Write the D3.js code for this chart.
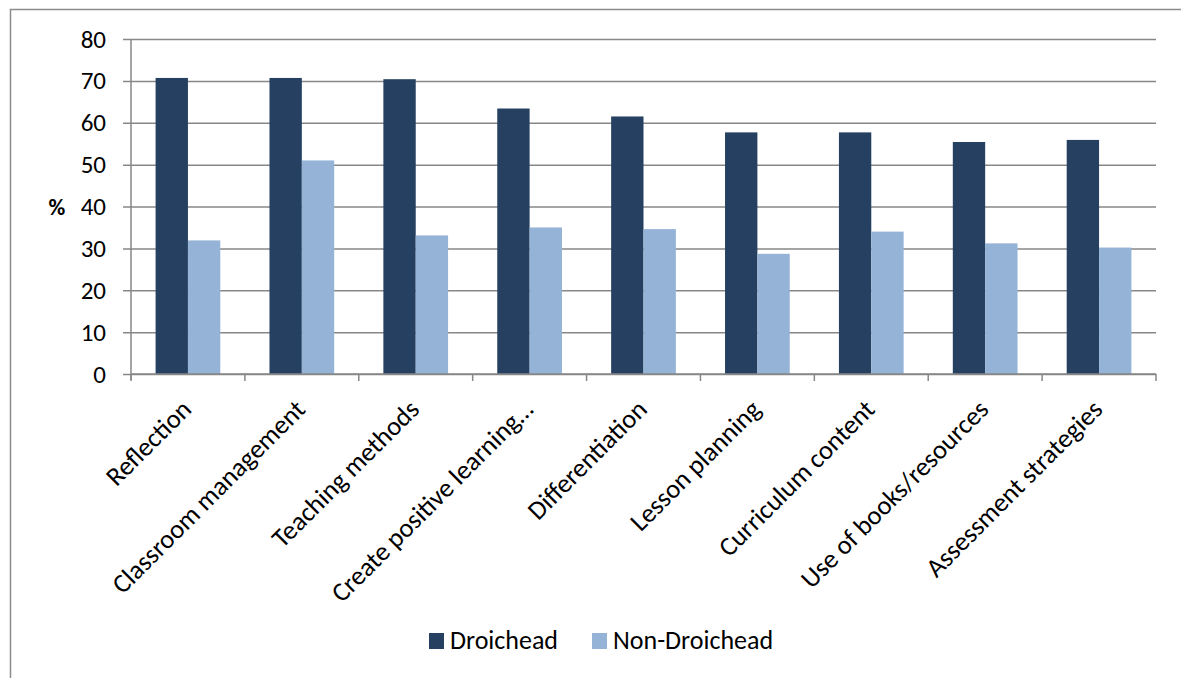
<!DOCTYPE html>
<html>
<head>
<meta charset="utf-8">
<script src="https://cdn.jsdelivr.net/npm/d3@7"></script>
<style>
  body { margin: 0; background: #fff; }
  text { font-family: Carlito, Calibri, Lato, sans-serif; fill: #000; }
</style>
</head>
<body>
<svg id="chart" width="1181" height="678"></svg>
<script>
const categories = ['Reflection', 'Classroom management', 'Teaching methods', 'Create positive learning…',
  'Differentiation', 'Lesson planning', 'Curriculum content', 'Use of books/resources', 'Assessment strategies'];
const droichead = [70.7, 70.7, 70.4, 63.4, 61.5, 57.7, 57.7, 55.4, 55.9];
const nonDroichead = [31.9, 51.0, 33.1, 35.0, 34.6, 28.7, 34.0, 31.2, 30.2];
const seriesNames = ['Droichead', 'Non-Droichead'];
const colors = ['#264061', '#95b3d7'];
const yTicks = [0, 10, 20, 30, 40, 50, 60, 70, 80];

const margin = {top: 39, right: 25, bottom: 304, left: 131};
const svg = d3.select('#chart');
const width = 1181 - margin.left - margin.right;
const height = 678 - margin.top - margin.bottom;

// outer chart border
svg.append('rect')
  .attr('x', 10.5).attr('y', 9.5)
  .attr('width', 1190).attr('height', 700)
  .attr('fill', 'none').attr('stroke', '#8c8c8c').attr('stroke-width', 1.5);

const g = svg.append('g').attr('transform', `translate(${margin.left}, ${margin.top})`);

const x = d3.scaleBand().domain(categories).range([0, width]).paddingInner(0).paddingOuter(0);
const x1 = d3.scaleBand().domain(seriesNames).range([0, x.bandwidth()]).paddingInner(0).paddingOuter(0.76);
const y = d3.scaleLinear().domain([0, 80]).range([height, 0]);

// gridlines + y ticks
const yAxis = g.append('g')
  .call(d3.axisLeft(y).tickValues(yTicks).tickSize(-width).tickPadding(25));
yAxis.select('.domain').remove();
yAxis.selectAll('.tick line')
  .attr('x1', -8)
  .attr('stroke', '#878787').attr('stroke-width', 1.5);
yAxis.selectAll('.tick text')
  .attr('font-size', 25).attr('font-family', 'Carlito, Calibri, Lato, sans-serif');

// vertical axis line
g.append('line')
  .attr('x1', 0).attr('x2', 0).attr('y1', 0).attr('y2', height + 6)
  .attr('stroke', '#878787').attr('stroke-width', 1.5);

g.append('text')
  .attr('x', -74).attr('y', y(40)).attr('dy', '0.35em')
  .attr('text-anchor', 'middle')
  .attr('font-size', 23).attr('font-weight', 'bold')
  .text('%');

// bars
const data = categories.map((c, i) => ({cat: c, values: [droichead[i], nonDroichead[i]]}));
const groups = g.selectAll('.group').data(data).join('g')
  .attr('class', 'group')
  .attr('transform', d => `translate(${x(d.cat)},0)`);
groups.selectAll('rect')
  .data(d => d.values.map((v, j) => ({name: seriesNames[j], value: v, j})))
  .join('rect')
  .attr('x', d => x1(d.name))
  .attr('width', x1.bandwidth())
  .attr('y', d => y(d.value))
  .attr('height', d => height - y(d.value))
  .attr('fill', d => colors[d.j]);

// x axis
const xAxis = g.append('g').attr('transform', `translate(0,${height})`);
xAxis.append('line')
  .attr('x1', 0).attr('x2', width)
  .attr('stroke', '#878787').attr('stroke-width', 1.5);
const boundaries = categories.map(c => x(c)).concat([width]);
xAxis.selectAll('.xtick').data(boundaries).join('line')
  .attr('class', 'xtick')
  .attr('x1', d => d).attr('x2', d => d)
  .attr('y1', 0).attr('y2', 7)
  .attr('stroke', '#878787').attr('stroke-width', 1.5);
xAxis.selectAll('.xlabel').data(categories).join('text')
  .attr('class', 'xlabel')
  .attr('text-anchor', 'end')
  .attr('font-size', 26.5)
  .attr('transform', d => `translate(${x(d) + x.bandwidth() / 2 + 5},${37}) rotate(-45)`)
  .text(d => d);

// legend
const legend = svg.append('g').attr('transform', 'translate(429, 633)');
const items = [{name: seriesNames[0], x: 0}, {name: seriesNames[1], x: 163}];
items.forEach((it, i) => {
  legend.append('rect')
    .attr('x', it.x).attr('y', 0).attr('width', 15).attr('height', 16)
    .attr('fill', colors[i]);
  legend.append('text')
    .attr('x', it.x + 21).attr('y', 16)
    .attr('font-size', 26)
    .text(it.name);
});
</script>
</body>
</html>
